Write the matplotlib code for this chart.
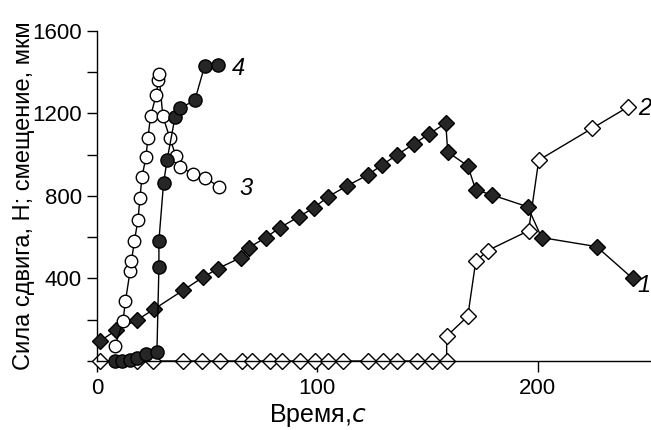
import numpy as np
from matplotlib import pyplot as plt
from matplotlib.ticker import MultipleLocator

plt.rcParams['font.family'] = ['Liberation Sans', 'DejaVu Sans']

# curve 1: shear force (filled diamonds)
t1 = [1.4, 8.6, 18.1, 25.9, 39.0, 48.0, 54.9, 65.3, 68.9, 76.6, 83.0, 91.6, 98.4,
      104.8, 113.4, 122.9, 129.3, 136.1, 143.8, 150.6, 158.3, 159.2, 168.3, 171.9,
      179.1, 195.5, 201.8, 226.8, 243.1]
f1 = [96, 149, 198, 251, 342, 405, 448, 501, 549, 598, 646, 699, 742,
      795, 848, 901, 949, 998, 1051, 1099, 1152, 1012, 945, 829,
      805, 747, 598, 554, 400]

# curve 2: displacement (open diamonds)
t2 = [1.4, 18.1, 25.4, 39.0, 47.6, 55.8, 65.8, 70.3, 78.5, 83.9, 92.0, 98.8,
      104.8, 111.6, 122.9, 129.7, 136.1, 145.1, 151.9, 158.7, 158.7, 168.3,
      171.9, 177.3, 195.9, 200.5, 224.9, 240.8]
f2 = [0, 0, 0, 0, 0, 0, 0, 0, 0, 0, 0, 0,
      0, 0, 0, 0, 0, 0, 0, 0, 120, 217,
      482, 535, 631, 973, 1128, 1229]

# curve 3 (open circles)
t3 = [8.2, 11.8, 12.9, 15.0, 15.6, 17.0, 18.6, 19.5, 20.4, 22.2, 23.1, 24.3,
      26.8, 27.9, 28.1, 29.9, 33.1, 35.8, 37.6, 43.5, 49.2, 55.5]
f3 = [72, 193, 289, 434, 482, 583, 684, 790, 891, 986, 1079, 1185,
      1287, 1359, 1390, 1185, 1079, 993, 940, 908, 887, 843]

# curve 4 (filled circles)
t4 = [8.2, 11.3, 15.0, 18.1, 22.2, 27.2, 28.1, 28.1, 30.2, 31.8, 35.4, 37.6,
      44.4, 48.8, 55.0]
f4 = [0, 0, 5, 14, 34, 46, 453, 583, 860, 973, 1181, 1224,
      1263, 1427, 1436]

fill = '#262626'

fig = plt.figure(figsize=(6.51, 4.30), dpi=100)
ax = fig.add_axes([97 / 651, 1 - 361 / 430, 553 / 651, (361 - 30.7) / 430])

ax.plot(t2, f2, '-D', color='black', lw=1.0, ms=7.8, mfc='white', mec='black',
        mew=1.0, clip_on=False, zorder=2)
ax.plot(t1, f1, '-D', color='black', lw=1.0, ms=7.8, mfc=fill, mec='black',
        mew=1.0, clip_on=False, zorder=3)
ax.plot(t3, f3, '-o', color='black', lw=1.0, ms=9, mfc='white', mec='black',
        mew=1.0, clip_on=False, zorder=4)
ax.plot(t4, f4, '-o', color='black', lw=1.0, ms=9.5, mfc=fill, mec='black',
        mew=1.0, clip_on=False, zorder=5)

ax.set_xlim(0, 251)
ax.set_ylim(0, 1600)
ax.set_xticks([0, 100, 200])
ax.set_yticks([400, 800, 1200, 1600])
ax.yaxis.set_minor_locator(MultipleLocator(200))
ax.tick_params(axis='both', which='major', direction='out', length=7, width=1.0,
               labelsize=16, pad=4)
ax.tick_params(axis='y', which='minor', direction='out', length=7, width=1.0)
ax.tick_params(axis='x', which='both', length=8)

for s in ['top', 'right']:
    ax.spines[s].set_visible(False)
for s in ['left', 'bottom']:
    ax.spines[s].set_linewidth(1.0)

ax.set_xlabel('Время,$\\mathit{с}$', fontsize=18)
ax.xaxis.set_label_coords(0.40, -0.125)
ax.set_ylabel('Сила сдвига, Н; смещение, мкм', fontsize=17)
ax.yaxis.set_label_coords(-0.112, 0.5)

lab = dict(fontsize=17, style='italic', va='center', ha='left')
ax.text(245.5, 365, '1', **lab)
ax.text(245.5, 1222, '2', **lab)
ax.text(64.5, 838, '3', **lab)
ax.text(61, 1418, '4', **lab)

fig.savefig('out.png', dpi=100)
